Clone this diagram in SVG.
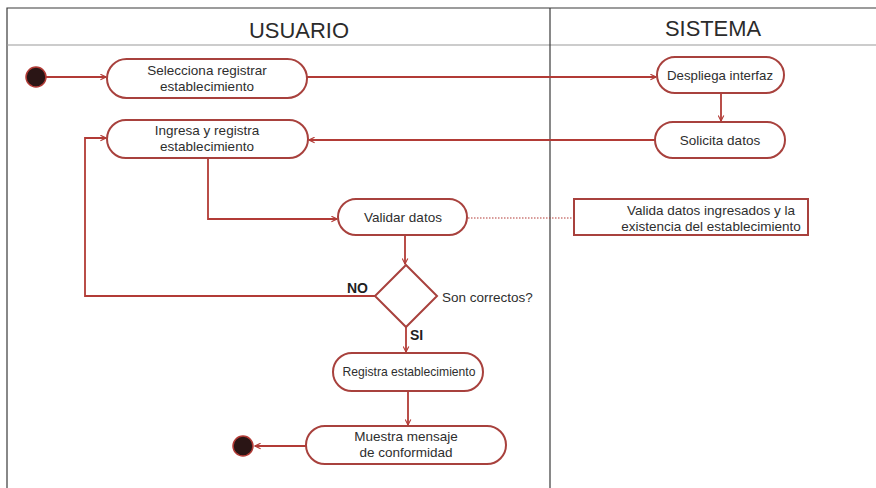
<svg xmlns="http://www.w3.org/2000/svg" width="876" height="488" viewBox="0 0 876 488">
  <defs>
    <marker id="arrow" viewBox="0 0 10 10" refX="9" refY="5" markerWidth="7" markerHeight="7" orient="auto" markerUnits="userSpaceOnUse">
      <path d="M1,1 L9,5 L1,9" fill="none" stroke="#b23b36" stroke-width="1.6"/>
    </marker>
  </defs>
  <style>
    .lane { fill: none; stroke: #3a3a3a; stroke-width: 1.2; }
    .laneline { stroke: #9a9a9a; stroke-width: 1.2; }
    .head { font-family: "Liberation Sans", Arial, sans-serif; font-size: 22px; fill: #2b2b2b; text-anchor: middle; }
    .act { fill: #ffffff; stroke: #a8413d; stroke-width: 2; }
    .note { fill: #ffffff; stroke: #a8413d; stroke-width: 2; }
    .t { font-family: "Liberation Sans", Arial, sans-serif; font-size: 13.5px; fill: #2e2e2e; text-anchor: middle; }
    .lbl { font-family: "Liberation Sans", Arial, sans-serif; font-size: 14px; font-weight: bold; fill: #1f1f1f; }
    .flow { fill: none; stroke: #b23b36; stroke-width: 1.8; }
    .dot { fill: none; stroke: #b23b36; stroke-width: 1.2; stroke-dasharray: 1.5 1.5; }
    .pt { fill: #2a1515; stroke: #b23b36; stroke-width: 1.5; }
  </style>
  <rect width="876" height="488" fill="#ffffff"/>

  <!-- swimlanes -->
  <g id="lanes">
    <path class="lane" d="M7,488 V8 H876"/>
    <line class="laneline" x1="7" y1="45" x2="876" y2="45"/>
    <line class="lane" x1="550" y1="8" x2="550" y2="488"/>
    <text class="head" x="299" y="38" textLength="100" lengthAdjust="spacingAndGlyphs">USUARIO</text>
    <text class="head" x="713" y="36" textLength="96" lengthAdjust="spacingAndGlyphs">SISTEMA</text>
  </g>

  <!-- connectors -->
  <g id="connectors">
    <line class="flow" x1="46" y1="77" x2="106" y2="77" marker-end="url(#arrow)"/>
    <line class="flow" x1="307" y1="77" x2="656" y2="77" marker-end="url(#arrow)"/>
    <line class="flow" x1="721" y1="93" x2="721" y2="121" marker-end="url(#arrow)"/>
    <line class="flow" x1="655" y1="140" x2="309" y2="140" marker-end="url(#arrow)"/>
    <polyline class="flow" points="208,158 208,219 337,219" marker-end="url(#arrow)"/>
    <line class="flow" x1="405" y1="235" x2="405" y2="264" marker-end="url(#arrow)"/>
    <polyline class="flow" points="375,296 85,296 85,138 106,138" marker-end="url(#arrow)"/>
    <line class="flow" x1="406" y1="327" x2="406" y2="352" marker-end="url(#arrow)"/>
    <line class="flow" x1="408" y1="391" x2="408" y2="425" marker-end="url(#arrow)"/>
    <line class="flow" x1="306" y1="446" x2="255" y2="446" marker-end="url(#arrow)"/>
    <line class="dot" x1="468" y1="218" x2="574" y2="218"/>
    <text class="lbl" x="347" y="293">NO</text>
    <text class="lbl" x="410" y="340">SI</text>
  </g>

  <!-- nodes -->
  <g id="start">
    <circle class="pt" cx="36" cy="77" r="10"/>
  </g>
  <g id="selecciona">
    <rect class="act" x="107" y="59" width="200" height="39" rx="19.5"/>
    <text class="t" x="207" y="75">Selecciona registrar</text>
    <text class="t" x="207" y="91">establecimiento</text>
  </g>
  <g id="despliega">
    <rect class="act" x="657" y="57" width="127" height="36" rx="18"/>
    <text class="t" x="720" y="80" textLength="106" lengthAdjust="spacingAndGlyphs">Despliega interfaz</text>
  </g>
  <g id="solicita">
    <rect class="act" x="655" y="122" width="130" height="36" rx="18"/>
    <text class="t" x="720" y="145">Solicita datos</text>
  </g>
  <g id="ingresa">
    <rect class="act" x="107" y="120" width="201" height="38" rx="19"/>
    <text class="t" x="207" y="135">Ingresa y registra</text>
    <text class="t" x="207" y="151">establecimiento</text>
  </g>
  <g id="validar">
    <rect class="act" x="338" y="199" width="129" height="36" rx="18"/>
    <text class="t" x="403" y="222">Validar datos</text>
  </g>
  <g id="nota">
    <rect class="note" x="574" y="199" width="234" height="36"/>
    <text class="t" x="711" y="215">Valida datos ingresados y la</text>
    <text class="t" x="711" y="231">existencia del establecimiento</text>
  </g>
  <g id="decision">
    <polygon class="act" points="406,265 437,296 406,327 375,296"/>
    <text class="t" x="442" y="302" style="text-anchor:start">Son correctos?</text>
  </g>
  <g id="registra">
    <rect class="act" x="333" y="353" width="150" height="38" rx="19"/>
    <text class="t" x="409" y="376" textLength="133" lengthAdjust="spacingAndGlyphs">Registra establecimiento</text>
  </g>
  <g id="muestra">
    <rect class="act" x="306" y="426" width="200" height="38" rx="19"/>
    <text class="t" x="406" y="441">Muestra mensaje</text>
    <text class="t" x="406" y="457">de conformidad</text>
  </g>
  <g id="end">
    <circle class="pt" cx="243" cy="446" r="10"/>
  </g>
</svg>
